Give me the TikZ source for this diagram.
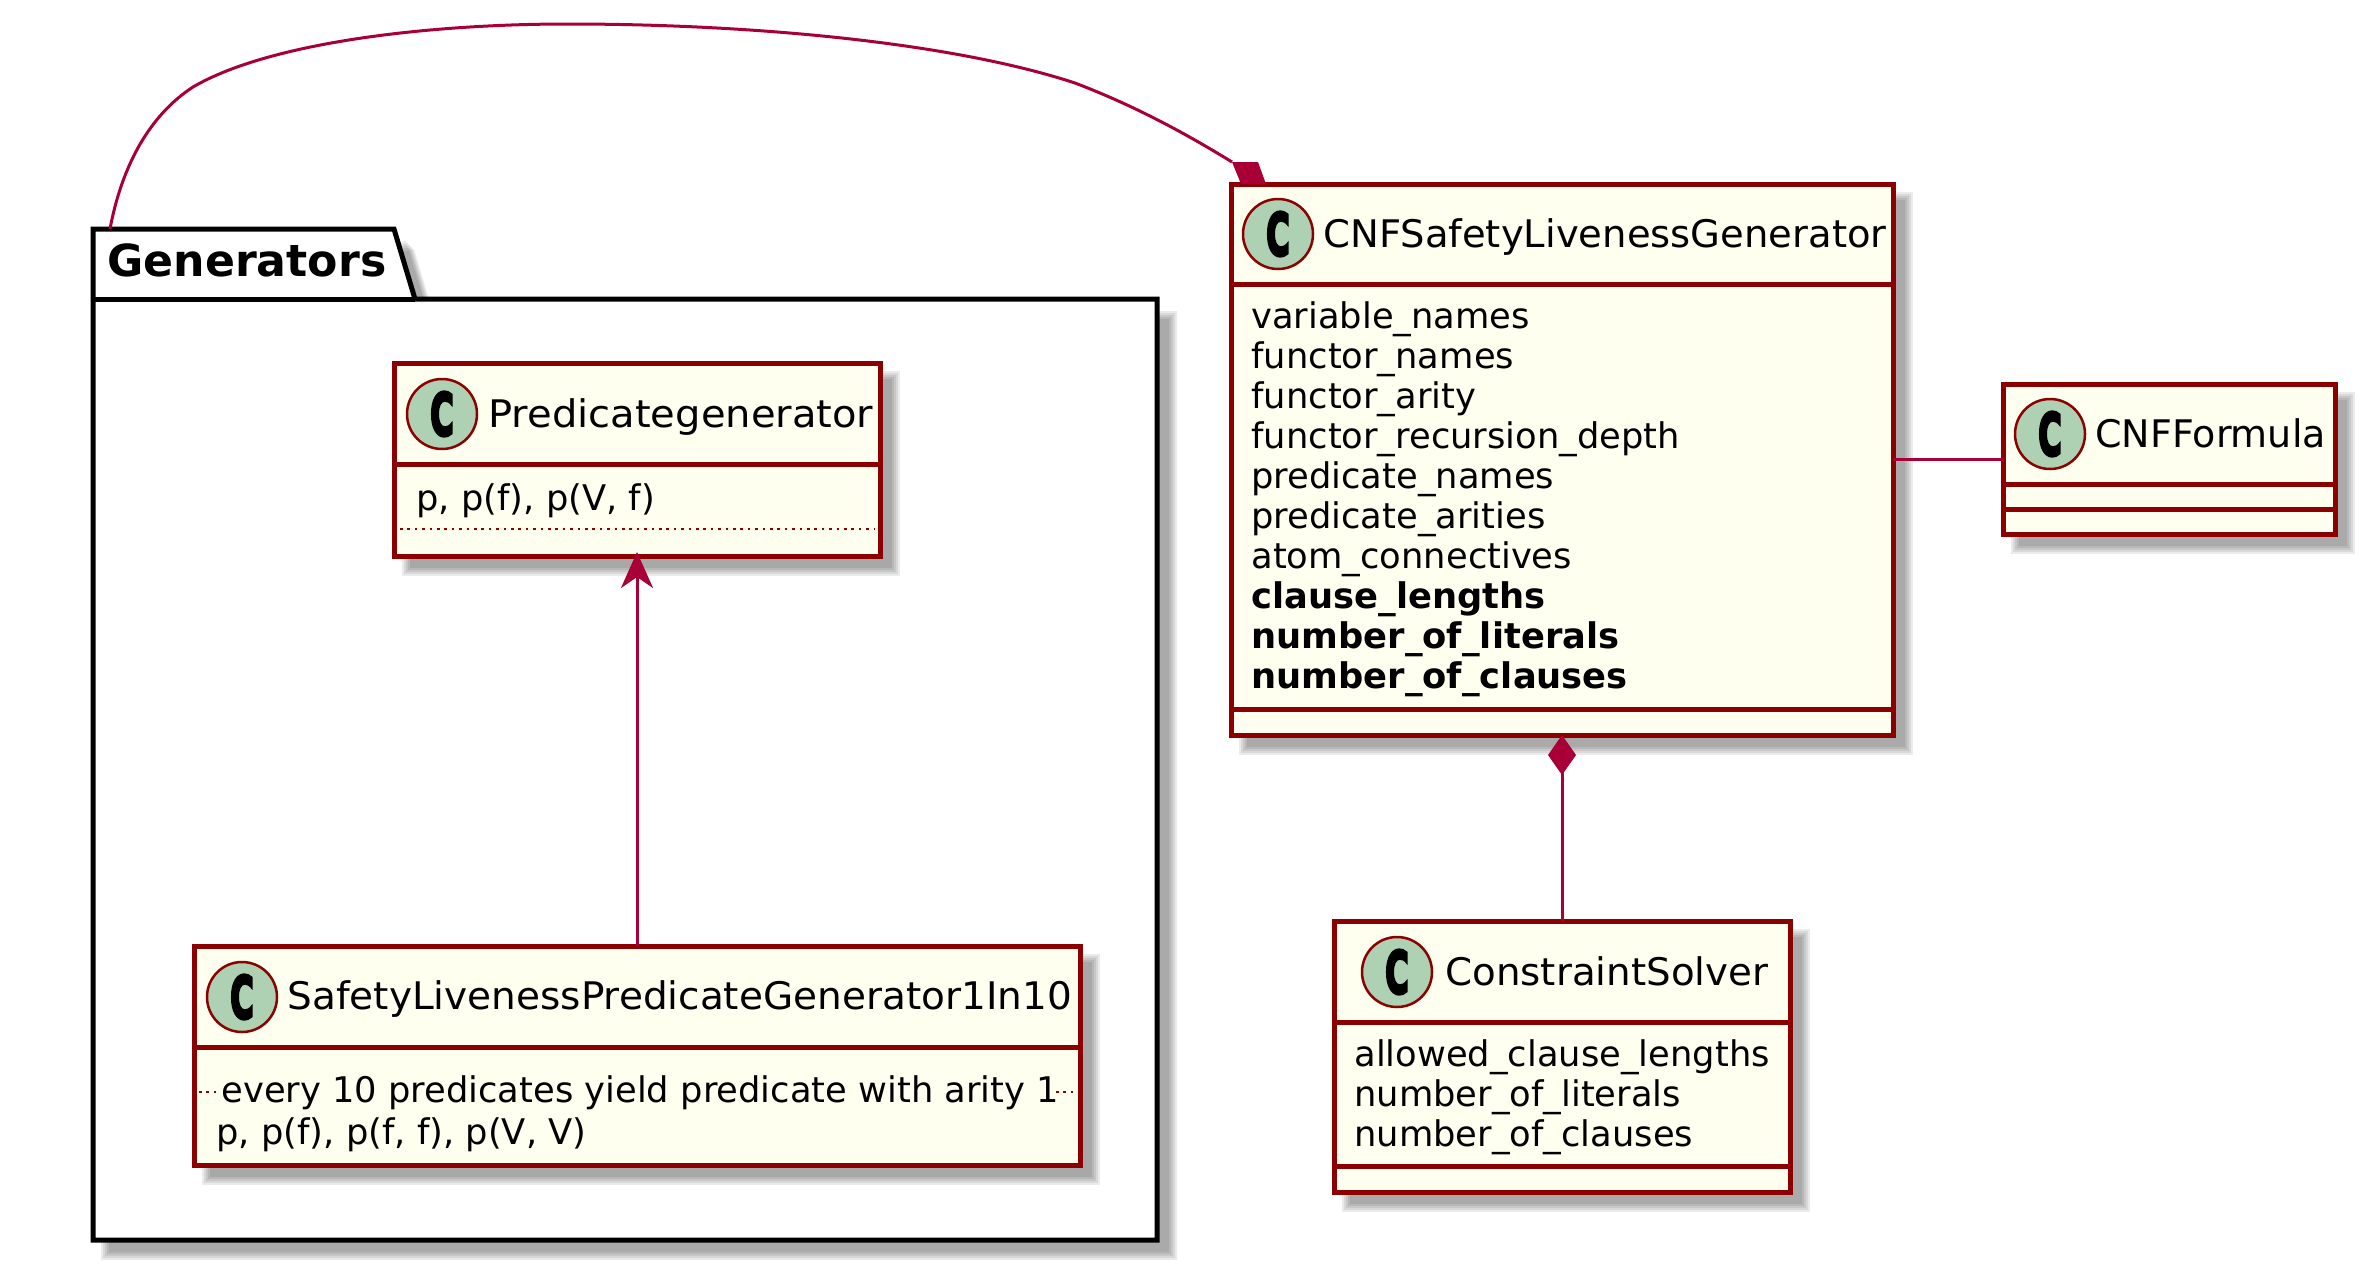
\documentclass[tikz,border=0pt]{standalone}
\usepackage{fontspec}
\setmainfont{DejaVu Sans}
\newfontface\markfont[FakeBold=6]{DejaVu Sans Bold}
\usepackage{xcolor}
\usepackage{tikz}
\usetikzlibrary{arrows.meta}
\usetikzlibrary{calc}
\definecolor{classred}{HTML}{8B0000}
\definecolor{linkred}{HTML}{A80036}
\definecolor{classfill}{HTML}{FFFFF0}
\definecolor{markgreen}{HTML}{ADD1B2}
\tikzset{
  classbox/.style={draw=classred, fill=classfill, line width=2.5pt, rectangle, inner sep=0pt, outer sep=0pt},
  classline/.style={draw=classred, line width=2.5pt},
  dotline/.style={draw=classred, line width=1.2pt, dash pattern=on 1.25pt off 2.45pt},
  classmark/.style={circle, draw=classred, fill=markgreen, line width=1.25pt, minimum size=35pt, inner sep=0pt},
  classtext/.style={anchor=base west, inner sep=0pt, font=\fontsize{17.65pt}{20pt}\selectfont},
  titletext/.style={anchor=base west, inner sep=0pt, font=\fontsize{19pt}{22pt}\selectfont},
  pkgline/.style={draw=black, line width=2.5pt, line join=miter},
  linkline/.style={draw=linkred, line width=1.5pt},
  shadowlayer/.style={fill=black, opacity=0.08}
}

\begin{document}
\begin{tikzpicture}[x=0.5pt, y=-0.5pt]
  \useasboundingbox (0,0) rectangle (2365,1275);

  % package
  \foreach \d in {-4,-2,0,2,4}
    \fill[shadowlayer] (105-\d,315-\d) -- (410-\d,245-\d) -- (431-\d,315-\d) -- (1173+\d,315-\d) -- (1173+\d,1256+\d) -- (105-\d,1256+\d) -- cycle;
  \draw[pkgline, fill=white] (93,299) -- (93,229) -- (394,229) -- (415,299) -- (1157,299) -- (1157,1240) -- (93,1240) -- cycle;
  \draw[pkgline] (93,299) -- (415,299);
  \node[classtext, font=\fontsize{22.1pt}{26pt}\selectfont\bfseries] (Generators) at (107,276) {Generators};
  \coordinate (pkgtop) at (110,229);

  % classes: name/left/top/right/bottom/title/stretch/title x/baseline/mark x/mark y/divider/divider
  \foreach \cname/\xa/\ya/\xb/\yb/\ctitle/\tsx/\tx/\ty/\mx/\my/\da/\db in {
    Pred/394/363/880/556/Predicategenerator/1.054/488/427/442/414/464/464,
    Safety/194/946/1080/1165/SafetyLivenessPredicateGenerator1In10/1.026/287/1009/242/997/1047/1047,
    CNF/1231/184/1893/735/CNFSafetyLivenessGenerator/1.014/1323/247/1278/234/284/709,
    Solver/1334/921/1790/1192/ConstraintSolver/1.02/1445/985/1397/972/1022/1166,
    Formula/2003/384/2335/534/CNFFormula/1.0/2095/447/2050/434/484/509}
  {
    \foreach \d in {-4,-2,0,2,4}
      \fill[shadowlayer] (\xa+12-\d,\ya+12-\d) rectangle (\xb+16+\d,\yb+16+\d);
    \node[classbox, minimum width={(\xb-\xa)*0.5pt}, minimum height={(\yb-\ya)*0.5pt}] (\cname) at ({(\xa+\xb)/2},{(\ya+\yb)/2}) {};
    \draw[classline] (\xa,\da) -- (\xb,\da);
    \draw[classline] (\xa,\db) -- (\xb,\db);
    \node[classmark] (\cname mark) at (\mx,\my) {\markfont\fontsize{29pt}{29pt}\selectfont\scalebox{0.55}[1]{C}};
    \node[titletext] (\cname title) at (\tx,\ty) {\scalebox{\tsx}[1]{\ctitle}};
  }

  % attributes
  \foreach \attr [count=\i] in {variable\_names, functor\_names, functor\_arity, functor\_recursion\_depth, predicate\_names, predicate\_arities, atom\_connectives, \textbf{clause\_lengths}, \textbf{number\_of\_literals}, \textbf{number\_of\_clauses}}
    \node[classtext] (CNFattr\i) at (1251,288+40*\i) {\attr};
  \foreach \attr [count=\i] in {allowed\_clause\_lengths, number\_of\_literals, number\_of\_clauses}
    \node[classtext] (Solverattr\i) at (1354,1026+40*\i) {\attr};
  \node[classtext] (Predattr) at (416,510) {p, p(f), p(V, f)};
  \draw[dotline] (400,529) -- (875,529);
  \node[classtext] (Safetynote) at (221,1102) {every 10 predicates yield predicate with arity 1};
  \node[classtext] (Safetyattr) at (216,1144) {p, p(f), p(f, f), p(V, V)};
  \draw[dotline] (199,1092) -- (220,1092);
  \draw[dotline] (1056,1092) -- (1075,1092);

  % connectors
  \coordinate (CNFclip) at (1232,162);
  \draw[linkline] (pkgtop) .. controls (122,165) and (150,115) .. (193,87)
    .. controls (270,42) and (430,24) .. (568,24)
    .. controls (750,24) and (950,42) .. (1075,83)
    .. controls (1130,104) and (1180,130) .. (CNFclip);
  \fill[linkred] (CNFclip) -- (1258,162) -- (1266,184) -- (1241,184) -- cycle;
  \draw[linkline, -{Stealth[length=18pt, width=16pt, inset=5.5pt]}, shorten >=-2pt] (Safety.north) -- (Pred.south);
  \draw[linkline, {Diamond[length=20pt, width=14pt]}-] (CNF.south) -- (Solver.north);
  \draw[linkline] (CNF.east |- 0,459) -- (Formula.west |- 0,459);
\end{tikzpicture}
\end{document}
